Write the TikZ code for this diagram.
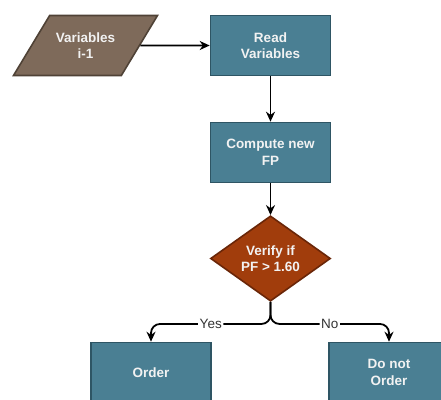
\documentclass[tikz,border=0pt]{standalone}
\usepackage{fontspec}
\setmainfont{Liberation Sans}
\usepackage{tikz}
\usetikzlibrary{positioning, arrows.meta, shapes.geometric}
\definecolor{petrol}{HTML}{4A7F93}
\definecolor{petroldark}{HTML}{2E5564}
\definecolor{rost}{HTML}{A13D0C}
\definecolor{rostdark}{HTML}{6A2608}
\definecolor{erde}{HTML}{7E6A5A}
\definecolor{erdedark}{HTML}{4F4236}
\definecolor{schrift}{HTML}{F2F2F2}

\begin{document}
\begin{tikzpicture}[x=1pt, y=-1pt,
    txt/.style={text=schrift, align=center, inner sep=0pt,
      font=\fontsize{13.5}{16.5}\selectfont\bfseries},
    box/.style={txt, rectangle, fill=petrol, draw=petroldark, line width=1.6pt,
      minimum width=120pt, minimum height=60pt},
    conn/.style={-{Stealth[length=10pt, width=9pt]}, black, line width=1.8pt},
    lbl/.style={fill=white, text=black!80, inner sep=1.5pt,
      font=\fontsize{13.5}{16}\selectfont}]
    \useasboundingbox (0,0) rectangle (441,399);
    % Eingabe (Schraegung ueber Winkel nachgestellt)
    \node[txt, trapezium, trapezium left angle=36, trapezium right angle=144,
      trapezium stretches body, fill=erde, draw=erdedark, line width=1.6pt,
      minimum width=144pt, minimum height=60pt] (vars) at (85.5,45.5) {Variables\\i-1};
    % Verarbeitung
    \node[box] (read) at (270.5,45.5) {Read\\Variables};
    \node[box] (comp) at (270.5,152.5) {Compute new\\FP};
    % Entscheidung
    \node[txt, diamond, fill=rost, draw=rostdark, line width=1.6pt,
      minimum width=120pt, minimum height=82pt] (check) at (270.5,258.5) {Verify if\\PF > 1.60};
    % Ergebnisse (unten abgeschnitten)
    \node[box] (order) at (151,372.5) {Order};
    \node[box] (noorder) at (389,372.5) {Do not\\Order};
    % Verbindungen
    \draw[conn] (vars) -- (read.west);
    \draw[conn] (read.south) -- (comp.north);
    \draw[conn] (comp.south) -- (check.north);
    \draw[conn, rounded corners=9pt] (check.south) -- ++(0,22) -| (order.north)
      node[lbl, pos=0.25] {Yes};
    \draw[conn, rounded corners=9pt] (check.south) -- ++(0,22) -| (noorder.north)
      node[lbl, pos=0.25] {No};
  \end{tikzpicture}
\end{document}
